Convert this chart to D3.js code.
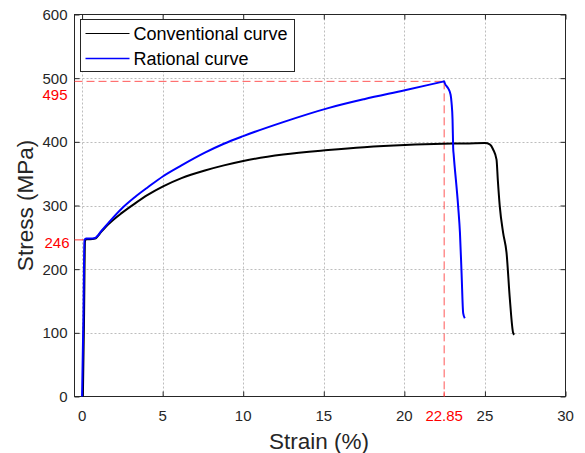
<!DOCTYPE html>
<html>
<head>
<meta charset="utf-8">
<script src="https://cdn.jsdelivr.net/npm/d3@7"></script>
<style>
  html, body { margin: 0; padding: 0; background: #fff; }
  svg { display: block; font-family: "Liberation Sans", Arial, sans-serif; }
</style>
</head>
<body>
<svg id="chart" width="585" height="453"></svg>
<script>
// ---- Data ----
const convStrain = [0.05, 0.12, 0.18, 0.25, 0.5, 0.8, 1.2, 1.61, 2.45, 3.27, 4.10, 5.03, 6.17, 7.62, 8.8, 10.0, 12.48, 15.27, 17.5, 20.03, 22.4, 24.0, 25.0, 25.3, 25.51, 25.72, 25.8, 25.92, 26.13, 26.34, 26.55, 26.75, 26.82];
const convStress = [0, 120, 244, 247, 247, 248, 259, 270, 288, 303, 317, 330, 343, 355, 363, 370, 380, 387, 391.5, 395, 397, 397.5, 398, 396, 388, 372, 340, 299, 257, 226, 152, 100, 97];

const ratStrain = [0.0, 0.08, 0.15, 0.25, 0.5, 0.8, 1.2, 1.61, 2.45, 3.27, 4.10, 5.03, 6.17, 7.62, 8.8, 10.0, 12.48, 15.27, 17.5, 20.03, 22.4, 22.47, 22.51, 22.72, 22.87, 22.93, 22.99, 23.03, 23.06, 23.34, 23.45, 23.55, 23.65, 23.75];
const ratStress = [0, 120, 246, 248, 248, 249, 260, 272, 295, 313, 329, 346, 363, 383, 397, 409, 431, 453, 467, 481, 494.6, 495, 492, 484, 474, 461, 435, 390, 380, 298, 257, 194, 131, 123];

const seriesNames = ["Conventional curve", "Rational curve"];
const seriesColors = ["#000000", "#0000ff"];

const xTicks = [0, 5, 10, 15, 20, 25, 30];
const yTicks = [0, 100, 200, 300, 400, 500, 600];

// annotations
const peakStrainPos = 22.47;   // where the marker is drawn
const peakStrainLabel = "22.85";
const peakStress = 495;
const yieldStress = 246;

// ---- Layout ----
const svg = d3.select("#chart");
const L = 74.5, R = 565.5, T = 14.5, B = 396.5;
const x = d3.scaleLinear().domain([-0.47, 30]).range([L, R]);
const y = d3.scaleLinear().domain([0, 600]).range([B, T]);
const tickLen = 5;
const textCol = "#262626";

// grid
const grid = svg.append("g");
grid.selectAll("line.gx").data(xTicks.filter(d => d < 30)).join("line")
  .attr("x1", d => Math.round(x(d)) + 0.5).attr("x2", d => Math.round(x(d)) + 0.5)
  .attr("y1", T).attr("y2", B)
  .attr("stroke", "#bdbdbd").attr("stroke-width", 1).attr("stroke-dasharray", "2,2");
grid.selectAll("line.gy").data(yTicks.filter(d => d > 0 && d < 600)).join("line")
  .attr("y1", d => Math.round(y(d)) + 0.5).attr("y2", d => Math.round(y(d)) + 0.5)
  .attr("x1", L).attr("x2", R)
  .attr("stroke", "#bdbdbd").attr("stroke-width", 1).attr("stroke-dasharray", "2,2");

// axes via d3 axis (inward ticks)
const xAxisB = d3.axisBottom(x).tickValues(xTicks).tickSize(-tickLen).tickFormat("");
const xAxisT = d3.axisTop(x).tickValues(xTicks).tickSize(-tickLen).tickFormat("");
const yAxisL = d3.axisLeft(y).tickValues(yTicks).tickSize(-tickLen).tickFormat("");
const yAxisR = d3.axisRight(y).tickValues(yTicks).tickSize(-tickLen).tickFormat("");

function styleAxis(g) {
  g.select(".domain").remove();
  g.selectAll(".tick line").attr("stroke", "#262626");
}
svg.append("g").attr("transform", `translate(0,${B})`).call(xAxisB).call(styleAxis);
svg.append("g").attr("transform", `translate(0,${T})`).call(xAxisT).call(styleAxis);
svg.append("g").attr("transform", `translate(${L},0)`).call(yAxisL).call(styleAxis);
svg.append("g").attr("transform", `translate(${R},0)`).call(yAxisR).call(styleAxis);

// frame
svg.append("rect").attr("x", L).attr("y", T).attr("width", R - L).attr("height", B - T)
  .attr("fill", "none").attr("stroke", "#262626").attr("stroke-width", 1);

// tick labels
svg.append("g").selectAll("text").data(xTicks).join("text")
  .attr("x", d => x(d)).attr("y", 421)
  .attr("text-anchor", "middle").attr("font-size", 15).attr("fill", textCol)
  .text(d => d);
svg.append("g").selectAll("text").data(yTicks).join("text")
  .attr("x", 67.5).attr("y", d => y(d)).attr("dy", "0.36em")
  .attr("text-anchor", "end").attr("font-size", 15).attr("fill", textCol)
  .text(d => d);

// red annotation dashed lines
const red = "#ff3b3b";
svg.append("line")
  .attr("x1", L).attr("x2", x(peakStrainPos))
  .attr("y1", y(peakStress)).attr("y2", y(peakStress))
  .attr("stroke", red).attr("stroke-width", 1).attr("stroke-dasharray", "8,4").attr("opacity", 0.85);
svg.append("line")
  .attr("x1", x(peakStrainPos)).attr("x2", x(peakStrainPos))
  .attr("y1", y(peakStress)).attr("y2", y(0))
  .attr("stroke", red).attr("stroke-width", 1).attr("stroke-dasharray", "8,4").attr("opacity", 0.85);
svg.append("line")
  .attr("x1", L).attr("x2", x(0.1))
  .attr("y1", y(yieldStress)).attr("y2", y(yieldStress))
  .attr("stroke", red).attr("stroke-width", 1);
svg.append("line")
  .attr("x1", x(peakStrainPos)).attr("x2", x(peakStrainPos))
  .attr("y1", B).attr("y2", B - tickLen)
  .attr("stroke", red).attr("stroke-width", 1);

// red labels
svg.append("text").attr("x", 67.5).attr("y", y(peakStress) + 13).attr("dy", "0.36em")
  .attr("text-anchor", "end").attr("font-size", 15).attr("fill", "#ff0000").text(peakStress);
svg.append("text").attr("x", 69.5).attr("y", y(yieldStress) + 3).attr("dy", "0.36em")
  .attr("text-anchor", "end").attr("font-size", 15).attr("fill", "#ff0000").text(yieldStress);
svg.append("text").attr("x", x(peakStrainPos)).attr("y", 421)
  .attr("text-anchor", "middle").attr("font-size", 15).attr("fill", "#ff0000").text(peakStrainLabel);

// curves
const line = d3.line().x(d => x(d[0])).y(d => y(d[1])).curve(d3.curveMonotoneX);
const conv = convStrain.map((s, i) => [s, convStress[i]]);
const rat = ratStrain.map((s, i) => [s, ratStress[i]]);
svg.append("path").datum(conv).attr("d", line)
  .attr("fill", "none").attr("stroke", seriesColors[0]).attr("stroke-width", 2).attr("stroke-linejoin", "round");
svg.append("path").datum(rat).attr("d", line)
  .attr("fill", "none").attr("stroke", seriesColors[1]).attr("stroke-width", 2).attr("stroke-linejoin", "round");

// legend
const lg = svg.append("g");
lg.append("rect").attr("x", 80.5).attr("y", 19.5).attr("width", 214).attr("height", 52)
  .attr("fill", "#fff").attr("stroke", "#262626").attr("stroke-width", 1);
const rowsY = [33.5, 58.5];
seriesNames.forEach((name, i) => {
  lg.append("line").attr("x1", 85.5).attr("x2", 129.5).attr("y1", rowsY[i]).attr("y2", rowsY[i])
    .attr("stroke", seriesColors[i]).attr("stroke-width", i === 0 ? 1.2 : 1.5);
  lg.append("text").attr("x", 133.5).attr("y", rowsY[i] + 6.5)
    .attr("font-size", 18).attr("fill", "#000").text(name);
});

// axis titles
svg.append("text").attr("x", (L + R) / 2 - 1).attr("y", 448.5)
  .attr("text-anchor", "middle").attr("font-size", 22.5).attr("fill", textCol).text("Strain (%)");
svg.append("text").attr("transform", `translate(33,${(T + B) / 2}) rotate(-90)`)
  .attr("text-anchor", "middle").attr("font-size", 22.5).attr("fill", textCol).text("Stress (MPa)");
</script>
</body>
</html>
